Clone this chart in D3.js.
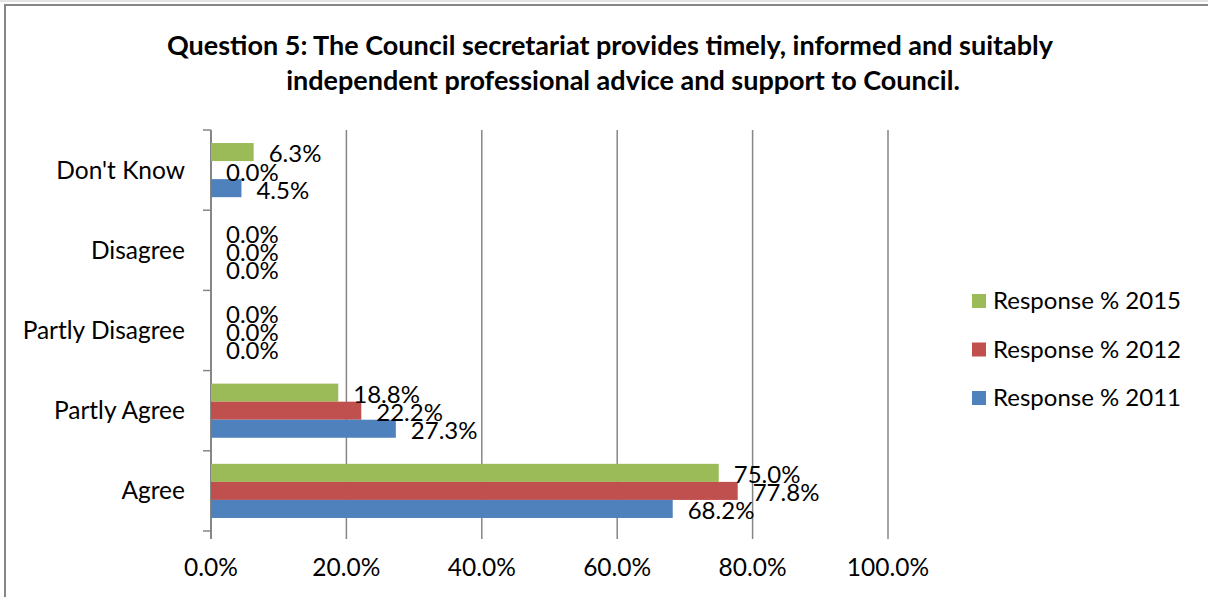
<!DOCTYPE html>
<html><head><meta charset="utf-8">
<script src="https://cdn.jsdelivr.net/npm/d3@7"></script>
<style>body{margin:0;background:#fff;} svg{display:block;font-family:Lato,"Open Sans",sans-serif;}</style>
</head><body>
<svg id="c" width="1208" height="597"></svg>
<script>
const categories = ["Don't Know", "Disagree", "Partly Disagree", "Partly Agree", "Agree"];
const seriesNames = ["Response % 2015", "Response % 2012", "Response % 2011"];
const values2015 = [6.3, 0.0, 0.0, 18.8, 75.0];
const values2012 = [0.0, 0.0, 0.0, 22.2, 77.8];
const values2011 = [4.5, 0.0, 0.0, 27.3, 68.2];
const colors = ["#9BBB59", "#C0504D", "#4F81BD"];
const xTicks = [0, 20, 40, 60, 80, 100];
const titleLines = ["Question 5: The Council secretariat provides timely, informed and suitably", "independent professional advice and support to Council."];

const svg = d3.select("#c");
svg.append("rect").attr("x",0).attr("y",0).attr("width",1208).attr("height",2).attr("fill","#e3e3e3");
svg.append("rect").attr("x",5).attr("y",5).attr("width",1300).attr("height",700)
  .attr("fill","#fff").attr("stroke","#868686").attr("stroke-width",2);

const L = 211, R = 888, T = 130, B = 531;
const x = d3.scaleLinear().domain([0,100]).range([L,R]);
const y = d3.scaleBand().domain(categories).range([T,B]).paddingInner(0.325).paddingOuter(0.1625);
const ySub = d3.scaleBand().domain(seriesNames).range([0, y.bandwidth()]);
const allSeries = [values2015, values2012, values2011];

// title
svg.append("g").selectAll("text").data(titleLines).join("text")
  .attr("x", (d,i)=> i===0 ? 610 : 623).attr("y",(d,i)=>55+i*35)
  .attr("text-anchor","middle").attr("font-weight","bold").attr("font-size",27).attr("fill","#000")
  .text(d=>d);

// gridlines
const g = svg.append("g");
g.selectAll("line.grid").data(xTicks.slice(1)).join("line").attr("class","grid")
  .attr("x1",d=>x(d)).attr("x2",d=>x(d)).attr("y1",T).attr("y2",B+8)
  .attr("stroke","#868686").attr("stroke-width",1.5);

// x axis labels
svg.append("g").selectAll("text").data(xTicks).join("text")
  .attr("x",d=>x(d)).attr("y",576).attr("text-anchor","middle").attr("font-size",24.5).attr("fill","#000")
  .text(d=>d3.format(".1f")(d)+"%");

// y axis
const yAxis = d3.axisLeft(y).tickSize(0).tickPadding(26);
const ya = svg.append("g").attr("transform",`translate(${L},0)`).call(yAxis);
ya.select(".domain").remove();
ya.selectAll("text").attr("font-size",24.5).attr("fill","#000").attr("font-family","Lato,sans-serif").attr("dy","0.35em");
// axis line and ticks
svg.append("line").attr("x1",L).attr("x2",L).attr("y1",T).attr("y2",B+8).attr("stroke","#868686").attr("stroke-width",2);
const bounds = [T].concat(categories.map(c=>y(c)+y.bandwidth()+y.step()*y.paddingInner()/2));
bounds[bounds.length-1] = B;
svg.append("g").selectAll("line").data(bounds).join("line")
  .attr("x1",L-8).attr("x2",L).attr("y1",d=>d).attr("y2",d=>d).attr("stroke","#868686").attr("stroke-width",1.5);

// bars
const bars = svg.append("g");
allSeries.forEach((vals,si)=>{
  const gs = bars.append("g");
  gs.selectAll("rect").data(vals).join("rect")
    .attr("x",L).attr("y",(d,i)=>y(categories[i])+ySub(seriesNames[si]))
    .attr("width",d=>x(d)-L).attr("height",ySub.bandwidth())
    .attr("fill",colors[si]);
});
allSeries.forEach((vals,si)=>{
  svg.append("g").selectAll("text").data(vals).join("text")
    .attr("x",d=>x(d)+15).attr("y",(d,i)=>y(categories[i])+ySub(seriesNames[si])+ySub.bandwidth()/2+2)
    .attr("dy","0.35em").attr("font-size",24).attr("fill","#000")
    .text(d=>d3.format(".1f")(d)+"%");
});

// legend
const lg = svg.append("g").selectAll("g").data(seriesNames).join("g")
  .attr("transform",(d,i)=>`translate(972,${301+i*48.5})`);
lg.append("rect").attr("x",0).attr("y",-7).attr("width",14).attr("height",14).attr("fill",(d,i)=>colors[i]);
lg.append("text").attr("x",21).attr("y",0).attr("dy","0.35em").attr("font-size",24).attr("fill","#000").text(d=>d);
</script>
</body></html>
